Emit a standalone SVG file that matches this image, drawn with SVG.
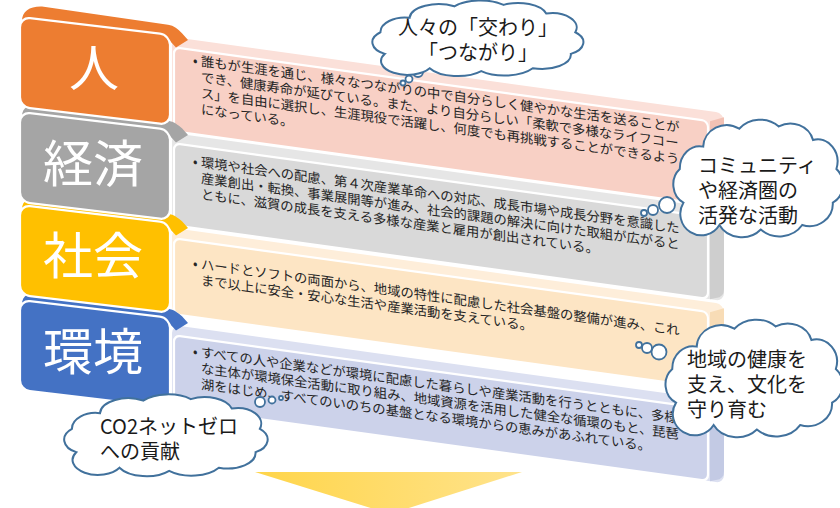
<svg xmlns="http://www.w3.org/2000/svg" xmlns:xlink="http://www.w3.org/1999/xlink" width="840" height="508" viewBox="0 0 840 508">
<style>
.pt{font-family:"Noto Sans CJK JP","Noto Sans",sans-serif;font-size:13.3px;fill:#262626}
.lbl{font-family:"Noto Sans CJK JP","Noto Sans",sans-serif;font-size:50px;fill:#fff;text-anchor:middle}
.ct{font-family:"Noto Sans CJK JP","Noto Sans",sans-serif;font-size:20px;fill:#1a1a1a}
.cloud{fill:#fff;stroke:#41719C;stroke-width:2}
.bub{fill:#fff;stroke:#41719C;stroke-width:1.8}
.wl{stroke:#fff;stroke-width:2.2}
</style>
<defs>
<path id="cloud" vector-effect="non-scaling-stroke" d="M -62,-28 A 26 20 0 0 1 -22,-44 A 30 22 0 0 1 22,-46 A 26 20 0 0 1 60,-34 A 22 20 0 0 1 86,-8 A 20 18 0 0 1 82,22 A 26 20 0 0 1 48,42 A 30 22 0 0 1 2,46 A 28 20 0 0 1 -44,42 A 22 18 0 0 1 -84,22 A 20 18 0 0 1 -88,-8 A 22 20 0 0 1 -62,-28 Z"/>
<linearGradient id="ag" x1="0" y1="0" x2="1" y2="0">
<stop offset="0" stop-color="#FFD54A"/>
<stop offset="1" stop-color="#FFE38C"/>
</linearGradient>
</defs>

<!-- panels (drawn bottom to top) -->
<g id="panel-kankyo" transform="translate(172,325) skewY(7.86)">
<rect x="0" y="0" width="552" height="82" rx="8" fill="#DCE0F1"/>
<rect x="2" y="10" width="534" height="72" rx="6" fill="#CCD2EA" class="wl"/>
<path d="M538,10 L552,4 L552,70 Q552,78 544,80 L538,82 Z" fill="#C3CAE4"/>
<text class="pt"><tspan x="21" y="28">•</tspan><tspan x="29" y="28">すべての人や企業などが環境に配慮した暮らしや産業活動を行うとともに、多様</tspan><tspan x="29" y="44">な主体が環境保全活動に取り組み、地域資源を活用した健全な循環のもと、琵琶</tspan><tspan x="29" y="60">湖をはじめ、すべてのいのちの基盤となる環境からの恵みがあふれている。</tspan></text>
</g>
<g id="panel-shakai" transform="translate(172,228) skewY(7.86)">
<rect x="0" y="0" width="552" height="86" rx="8" fill="#FEEEDA"/>
<rect x="2" y="10" width="534" height="76" rx="6" fill="#FDE5C4" class="wl"/>
<path d="M538,10 L552,4 L552,74 Q552,82 544,84 L538,86 Z" fill="#F8DCB6"/>
<text class="pt"><tspan x="21" y="37">•</tspan><tspan x="29" y="37">ハードとソフトの両面から、地域の特性に配慮した社会基盤の整備が進み、これ</tspan><tspan x="29" y="53">まで以上に安全・安心な生活や産業活動を支えている。</tspan></text>
</g>
<g id="panel-keizai" transform="translate(172,133) skewY(7.86)">
<rect x="0" y="0" width="552" height="92" rx="8" fill="#E6E6E6"/>
<rect x="2" y="10" width="534" height="82" rx="6" fill="#D9D9D9" class="wl"/>
<path d="M538,10 L552,4 L552,80 Q552,88 544,90 L538,92 Z" fill="#CECECE"/>
<text class="pt"><tspan x="21" y="30">•</tspan><tspan x="29" y="30">環境や社会への配慮、第４次産業革命への対応、成長市場や成長分野を意識した</tspan><tspan x="29" y="46">産業創出・転換、事業展開等が進み、社会的課題の解決に向けた取組が広がると</tspan><tspan x="29" y="62">ともに、滋賀の成長を支える多様な産業と雇用が創出されている。</tspan></text>
</g>
<g id="panel-hito" transform="translate(172,37) skewY(7.86)">
<rect x="0" y="0" width="552" height="94" rx="8" fill="#FBE0D9"/>
<rect x="2" y="10" width="534" height="84" rx="6" fill="#F8D0C5" class="wl"/>
<path d="M538,10 L552,4 L552,82 Q552,90 544,92 L538,94 Z" fill="#F2C1B4"/>
<text class="pt"><tspan x="21" y="25">•</tspan><tspan x="29" y="25">誰もが生涯を通じ、様々なつながりの中で自分らしく健やかな生活を送ることが</tspan><tspan x="29" y="41">でき、健康寿命が延びている。また、より自分らしい「柔軟で多様なライフコー</tspan><tspan x="29" y="57">ス」を自由に選択し、生涯現役で活躍し、何度でも再挑戦することができるよう</tspan><tspan x="29" y="73">になっている。</tspan></text>
</g>

<!-- left boxes (bottom to top) -->
<g id="box-kankyo">
<g transform="translate(20,300) skewY(6.8)">
<path d="M2,4 C2,-5 10,-10 22,-11 L148,-9 C154,-9 158,-6 162,-3 L168,3 L156,12 L150,6 Z" fill="#4472C4"/>
<rect x="0" y="0" width="150" height="90" rx="10" fill="#4472C4" class="wl"/>
</g>
<text class="lbl" x="93" y="370">環境</text>
</g>
<g id="box-shakai">
<g transform="translate(20,205) skewY(6.8)">
<path d="M2,4 C2,-5 10,-10 22,-11 L148,-9 C154,-9 158,-6 162,-3 L168,3 L156,12 L150,6 Z" fill="#FFC000"/>
<rect x="0" y="0" width="150" height="90" rx="10" fill="#FFC000" class="wl"/>
</g>
<text class="lbl" x="93" y="274">社会</text>
</g>
<g id="box-keizai">
<g transform="translate(20,112) skewY(6.8)">
<path d="M2,4 C2,-5 10,-10 22,-11 L148,-9 C154,-9 158,-6 162,-3 L168,3 L156,12 L150,6 Z" fill="#A5A5A5"/>
<rect x="0" y="0" width="150" height="90" rx="10" fill="#A5A5A5" class="wl"/>
</g>
<text class="lbl" x="93" y="182">経済</text>
</g>
<g id="box-hito">
<g transform="translate(20,17) skewY(6.8)">
<path d="M2,4 C2,-6 10,-12 22,-13 L148,-10 C154,-10 158,-7 162,-3 L168,3 L156,12 L150,6 Z" fill="#ED7D31"/>
<rect x="0" y="0" width="150" height="90" rx="10" fill="#ED7D31" class="wl"/>
</g>
<text class="lbl" x="94" y="86">人</text>
</g>

<!-- bottom arrow -->
<g id="arrow">
<polygon points="255,472 522,472 390,514" fill="url(#ag)"/>
</g>

<!-- clouds -->
<g id="cloud-tsunagari">
<circle class="bub" cx="403" cy="83" r="2.5"/>
<circle class="bub" cx="409" cy="79" r="3.5"/>
<circle class="bub" cx="418" cy="72" r="5"/>
<use href="#cloud" class="cloud" transform="translate(479,38) scale(1.12,0.72)"/>
<text class="ct" text-anchor="middle"><tspan x="478" y="35">人々の「交わり」</tspan><tspan x="478" y="60">「つながり」</tspan></text>
</g>
<g id="cloud-community">
<circle class="bub" cx="644" cy="213" r="3"/>
<circle class="bub" cx="653" cy="210" r="5"/>
<circle class="bub" cx="667" cy="205" r="8"/>
<use href="#cloud" class="cloud" transform="translate(759,178) scale(0.9,1.12)"/>
<text class="ct"><tspan x="698" y="173">コミュニティ</tspan><tspan x="698" y="198">や経済圏の</tspan><tspan x="698" y="223">活発な活動</tspan></text>
</g>
<g id="cloud-chiiki">
<circle class="bub" cx="639" cy="345" r="3"/>
<circle class="bub" cx="647" cy="348" r="5"/>
<circle class="bub" cx="659" cy="352" r="7.5"/>
<use href="#cloud" class="cloud" transform="translate(755,378) scale(0.94,1.12)"/>
<text class="ct"><tspan x="687" y="367">地域の健康を</tspan><tspan x="687" y="392">支え、文化を</tspan><tspan x="687" y="417">守り育む</tspan></text>
</g>
<g id="cloud-co2">
<circle class="bub" cx="281" cy="398" r="2"/>
<circle class="bub" cx="272" cy="400" r="3.5"/>
<circle class="bub" cx="260" cy="402" r="5"/>
<use href="#cloud" class="cloud" transform="translate(167,435) scale(1.08,0.78)"/>
<text class="ct"><tspan x="100" y="434">CO2ネットゼロ</tspan><tspan x="100" y="459">への貢献</tspan></text>
</g>
</svg>
